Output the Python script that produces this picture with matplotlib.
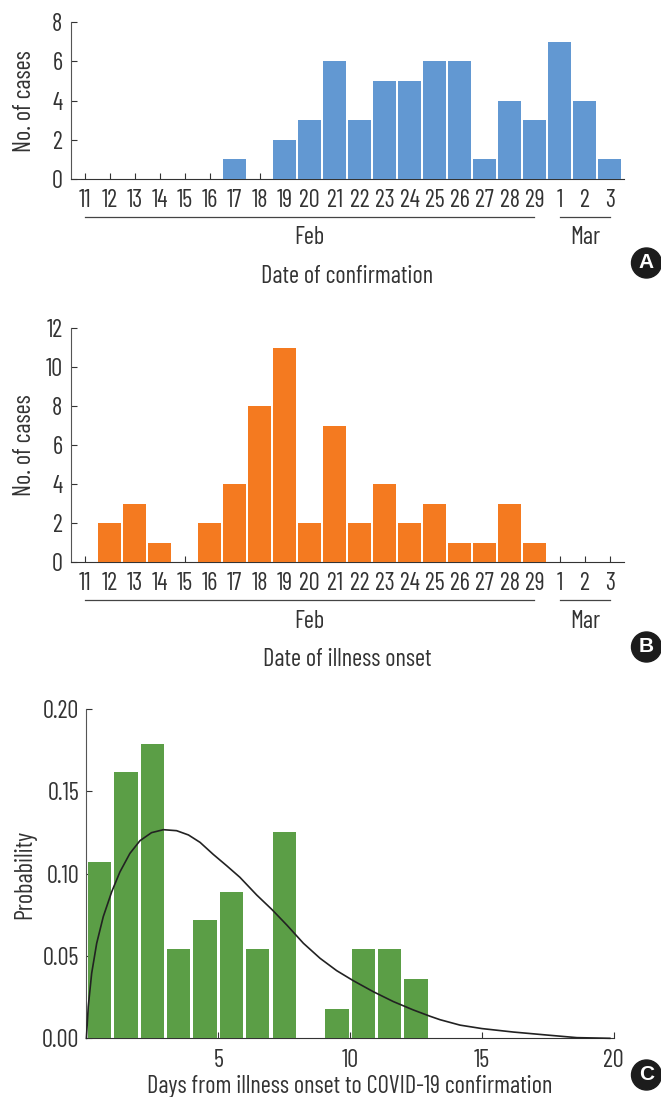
import matplotlib
matplotlib.use("Agg")
import matplotlib.pyplot as plt
from matplotlib.patches import Circle

plt.rcParams['font.family'] = ['Barlow Condensed', 'Roboto Condensed', 'DejaVu Sans']

W, H = 661, 1097

date_labels = ['11', '12', '13', '14', '15', '16', '17', '18', '19', '20', '21', '22',
               '23', '24', '25', '26', '27', '28', '29', '1', '2', '3']
confirmed = [0, 0, 0, 0, 0, 0, 1, 0, 2, 3, 6, 3, 5, 5, 6, 6, 1, 4, 3, 7, 4, 1]
onset = [0, 2, 3, 1, 0, 2, 4, 8, 11, 2, 7, 2, 4, 2, 3, 1, 1, 3, 1, 0, 0, 0]

delay_days = [0.5, 1.5, 2.5, 3.5, 4.5, 5.5, 6.5, 7.5, 9.5, 10.5, 11.5, 12.5]
delay_prob = [0.107, 0.162, 0.179, 0.054, 0.072, 0.089, 0.054, 0.125, 0.018, 0.054, 0.054, 0.036]

# fitted curve
curve_x = [0.0, 0.07, 0.2, 0.39, 0.64, 0.96, 1.27, 1.65, 2.03, 2.47, 2.92, 3.42, 3.87, 4.31,
           4.81, 5.32, 5.82, 6.46, 7.03, 7.6, 8.23, 8.86, 9.49, 10.12, 10.88, 11.64, 12.4,
           13.03, 13.41, 14.17, 15.0, 16.19, 17.45, 18.6, 19.85]
curve_y = [0.0, 0.0192, 0.0395, 0.0577, 0.0739, 0.089, 0.101, 0.1123, 0.12, 0.1249, 0.1267,
           0.1261, 0.1235, 0.119, 0.1117, 0.1048, 0.0978, 0.087, 0.0783, 0.0688, 0.0577,
           0.0486, 0.0411, 0.035, 0.0283, 0.0223, 0.0172, 0.0134, 0.0113, 0.008, 0.0059,
           0.0038, 0.002, 0.0004, 0.0]

BLUE = '#6298d2'
ORANGE = '#f47a20'
GREEN = '#5b9e46'
DARK = '#333333'
FS = 17.6


def make_axes(left, right, top, bottom):
    return fig.add_axes([left / W, 1 - bottom / H, (right - left) / W, (bottom - top) / H])


def style(ax):
    ax.spines['top'].set_visible(False)
    ax.spines['right'].set_visible(False)
    ax.spines['left'].set_color('#555555')
    ax.spines['bottom'].set_color(DARK)
    ax.tick_params(direction='in', length=4.5, width=0.8, color=DARK, labelcolor=DARK, labelsize=FS)
    ax.set_axisbelow(True)


def date_panel(ax, values, color, yticks, xlabel, top, bottom, line_px, feb_px, label_px):
    x = list(range(len(values)))
    ax.bar(x, values, width=0.93, color=color, zorder=3)
    ax.set_xlim(-0.556, 21.57)
    ax.set_ylim(0, yticks[-1])
    ax.set_yticks(yticks)
    ax.set_xticks(x)
    ax.set_xticklabels(date_labels)
    ax.tick_params(axis='x', pad=7.5)
    ax.tick_params(axis='y', pad=6)
    ax.set_ylabel('No. of cases', fontsize=FS, color=DARK, va='center')
    ax.yaxis.set_label_coords(-46 / 553.2, 0.5)

    span = bottom - top
    to_ax = lambda py: (bottom - py) / span
    trans = ax.get_xaxis_transform()
    # month brackets under the date labels
    ax.plot([0, 17.96], [to_ax(line_px)] * 2, color='#444444', lw=0.9, transform=trans, clip_on=False)
    ax.plot([19, 21], [to_ax(line_px)] * 2, color='#444444', lw=0.9, transform=trans, clip_on=False)
    ax.text(8.97, to_ax(feb_px), 'Feb', transform=trans, ha='center', va='center', fontsize=FS, color=DARK)
    ax.text(20.03, to_ax(feb_px), 'Mar', transform=trans, ha='center', va='center', fontsize=FS, color=DARK)
    ax.set_xlabel(xlabel, fontsize=FS, color=DARK, va='center')
    ax.xaxis.set_label_coords(10.5, to_ax(label_px), transform=trans)


fig = plt.figure(figsize=(W / 100, H / 100), dpi=100)

ax_a = make_axes(70.8, 624, 22.3, 179)
style(ax_a)
date_panel(ax_a, confirmed, BLUE, [0, 2, 4, 6, 8], 'Date of confirmation', 22.3, 179, 217, 238, 276.5)

ax_b = make_axes(70.8, 624, 328, 562)
style(ax_b)
date_panel(ax_b, onset, ORANGE, [0, 2, 4, 6, 8, 10, 12], 'Date of illness onset', 328, 562, 600, 621, 659)

ax_c = make_axes(86.4, 613.8, 709, 1038.3)
style(ax_c)
ax_c.bar(delay_days, delay_prob, width=0.88, color=GREEN, zorder=3)
ax_c.plot(curve_x, curve_y, color='#222222', lw=1.2, zorder=4, clip_on=False)
ax_c.set_xlim(0, 20)
ax_c.set_ylim(0, 0.2)
ax_c.set_xticks([5, 10, 15, 20])
ax_c.set_yticks([0, 0.05, 0.1, 0.15, 0.2])
ax_c.set_yticklabels(['0.00', '0.05', '0.10', '0.15', '0.20'])
ax_c.tick_params(axis='x', pad=7.5)
ax_c.tick_params(axis='y', pad=5)
ax_c.set_ylabel('Probability', fontsize=FS, color=DARK, va='center')
ax_c.yaxis.set_label_coords(-61.5 / 527.4, 0.498)
ax_c.set_xlabel('Days from illness onset to COVID-19 confirmation', fontsize=FS, color=DARK, va='center')
ax_c.xaxis.set_label_coords((350 - 86.4) / 527.4, -(1086.5 - 1038.3) / 329.3)

# panel letters
overlay = fig.add_axes([0, 0, 1, 1], zorder=10)
overlay.set_xlim(0, W)
overlay.set_ylim(H, 0)
overlay.axis('off')
for letter, cy in [('A', 263), ('B', 647), ('C', 1075)]:
    overlay.add_patch(Circle((646.5, cy), 15, color='#1c1c1c'))
    overlay.text(646.5, cy, letter, color='white', fontsize=15, fontweight='bold',
                 family='Liberation Sans', ha='center', va='center')

fig.savefig('out.png', dpi=100)
